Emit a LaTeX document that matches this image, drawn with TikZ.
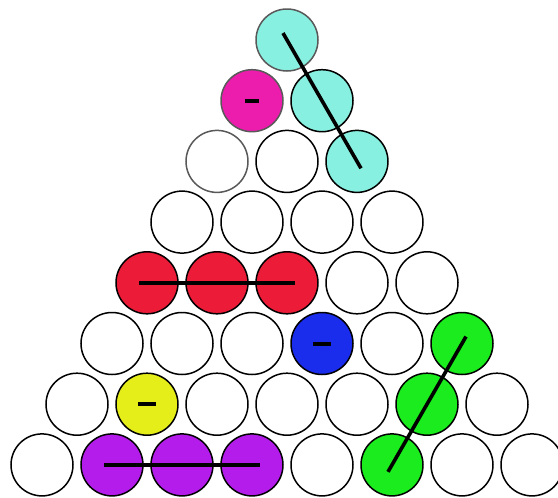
\documentclass[tikz,border=0pt]{standalone}
\usepackage{xcolor}
\definecolor{aquagood}{RGB}{136,240,224}
\definecolor{pinkgood}{RGB}{236,28,172}
\definecolor{redgood}{RGB}{236,28,56}
\definecolor{bluegood}{RGB}{26,44,236}
\definecolor{greengood}{RGB}{26,236,30}
\definecolor{yellowgood}{RGB}{230,238,26}
\definecolor{violetgood}{RGB}{180,28,236}
\tikzset{
  ball/.style={circle,draw=black,line width=1.5pt,fill=white,minimum size=62pt,inner sep=0pt},
  greyrim/.style={draw=black!65},
  tint11/.style={fill=aquagood,greyrim},
  tint21/.style={fill=pinkgood,greyrim},
  tint22/.style={fill=aquagood},
  tint31/.style={greyrim},
  tint33/.style={fill=aquagood},
  tint51/.style={fill=redgood},
  tint52/.style={fill=redgood},
  tint53/.style={fill=redgood},
  tint64/.style={fill=bluegood},
  tint66/.style={fill=greengood},
  tint72/.style={fill=yellowgood},
  tint76/.style={fill=greengood},
  tint82/.style={fill=violetgood},
  tint83/.style={fill=violetgood},
  tint84/.style={fill=violetgood},
  tint86/.style={fill=greengood},
  stroke/.style={line width=3.6pt,shorten <=-8pt,shorten >=-8pt},
  minusmark/.style={line width=4pt},
}

\begin{document}
\begin{tikzpicture}[x=1pt,y=-1pt]
  \useasboundingbox (0,0) rectangle (558,498);
  % triangle of balls, row r has r balls
  \foreach \r in {1,...,8}
    \foreach \k in {1,...,\r}
      \node[ball,tint\r\k/.try] (c\r\k) at ({287+70*(\k-1)-35*(\r-1)},{40+60.7*(\r-1)}) {};
  % strokes through rows of equal colour
  \draw[stroke] (c11.center) -- (c33.center);
  \draw[stroke] (c51.center) -- (c53.center);
  \draw[stroke] (c66.center) -- (c86.center);
  \draw[stroke] (c82.center) -- (c84.center);
  % single balls
  \draw[minusmark] ([xshift=-7pt]c21.center) -- ([xshift=7pt]c21.center);
  \draw[minusmark] ([xshift=-9pt]c64.center) -- ([xshift=9pt]c64.center);
  \draw[minusmark] ([xshift=-9pt]c72.center) -- ([xshift=9pt]c72.center);
\end{tikzpicture}
\end{document}
